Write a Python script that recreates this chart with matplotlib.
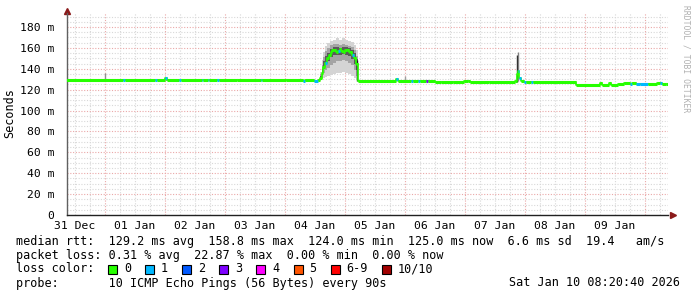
import matplotlib
matplotlib.use("Agg")
import matplotlib.pyplot as plt
from matplotlib.patches import Rectangle

# time in days since 31 Dec 00:00
t = [0.35, 1.30, 1.33, 1.84, 1.87, 2.00, 2.03, 2.24, 2.27, 2.62, 2.64, 2.71, 2.73,
     2.87, 2.90, 3.20, 3.60, 3.62, 4.02, 4.30, 4.33, 4.48, 4.55, 4.58, 4.61, 4.64,
     4.67, 4.70, 4.73, 4.76, 4.79, 4.82, 4.85, 4.88, 4.91, 4.94, 4.97, 5.00, 5.03,
     5.06, 5.09, 5.12, 5.15, 5.18, 5.21, 5.85, 5.88, 6.10, 6.13, 6.22, 6.25, 6.35,
     6.38, 6.50, 6.60, 6.80, 6.98, 7.05, 7.08, 7.40, 7.84, 7.86, 7.88, 7.90, 7.93,
     7.98, 8.02, 8.10, 8.13, 8.85, 9.25, 9.29, 9.40, 9.43, 9.55, 9.65, 9.75, 9.78,
     9.85, 9.92, 10.05, 10.20, 10.25, 10.28, 10.35]
median = [129.0, 129.0, 129.0, 129.0, 129.0, 131.0, 129.0, 129.0, 129.0, 129.0, 129.0,
          129.0, 129.0, 129.0, 129.0, 129.0, 129.0, 129.0, 128.8, 128.5, 128.8, 128.6,
          129.0, 131.0, 136.0, 142.0, 146.0, 150.0, 153.0, 156.0, 157.5, 158.0, 156.5,
          157.0, 158.5, 157.0, 156.0, 157.5, 158.0, 156.0, 156.5, 153.0, 150.0, 145.0,
          128.5, 130.0, 128.5, 128.5, 128.5, 128.3, 128.5, 128.3, 128.0, 127.5, 127.0,
          127.2, 128.5, 128.5, 127.2, 127.2, 128.0, 135.0, 138.0, 131.0, 128.0, 127.5,
          127.3, 127.2, 127.2, 124.0, 126.5, 124.5, 126.0, 124.5, 125.5, 126.0, 125.5,
          126.0, 125.5, 125.0, 125.5, 126.5, 126.0, 125.0, 125.0]
loss = [0, 1, 0, 1, 0, 1, 0, 1, 0, 1, 0, 1, 0, 1, 0, 0, 1, 0, 0, 1, 0, 1, 0, 0, 0, 0,
        1, 0, 0, 0, 0, 0, 0, 1, 0, 0, 0, 0, 0, 0, 0, 1, 0, 0, 0, 1, 0, 1, 0, 1, 0, 3,
        0, 0, 0, 0, 0, 0, 0, 0, 0, 0, 1, 1, 0, 1, 0, 1, 0, 0, 0, 0, 0, 0, 0, 0, 1, 0,
        1, 1, 0, 0, 1, 0, 0]

# smoke during the 04/05 Jan bump
smoke_t = [4.55, 4.58, 4.61, 4.64, 4.67, 4.70, 4.75, 4.80, 4.85, 4.90, 4.95, 5.00,
           5.05, 5.10, 5.15, 5.18, 5.21]
smoke_hi1 = [130, 137, 148, 156, 162, 165, 167, 168, 169, 168, 169, 168, 167, 166,
             163, 158, 129]
smoke_lo1 = [128, 129, 130, 131, 132, 133, 134, 135, 136, 136, 137, 136, 135, 133,
             131, 129, 128]
smoke_hi2 = [129.5, 135, 144, 151, 157, 160, 163, 164, 164, 163, 164, 163, 162, 161,
             158, 152, 129]
smoke_lo2 = [128.5, 129.5, 132, 136, 139, 141, 144, 146, 147, 147, 148, 147, 146, 144,
             139, 133, 128.5]
smoke_hi3 = [129, 133, 140, 147, 152, 155, 159, 161, 161, 160, 161, 161, 160, 158,
             155, 149, 129]
smoke_lo3 = [128.7, 130, 134, 140, 144, 147, 151, 153, 153, 153, 154, 153, 152, 149,
             145, 139, 128.7]

# short smoke spikes elsewhere
spike_t = [1.00, 2.01, 6.00, 7.865, 7.875, 5.205]
spike_lo = [129, 129, 128.5, 127.5, 128, 128.5]
spike_hi = [135.5, 132.5, 133.5, 153.5, 156, 148]
spike_col = ['#909090', '#404040', '#a0a0a0', '#202020', '#808080', '#202020']

loss_colors = ['#26ff00', '#00b8ff', '#0059ff', '#7e00ff', '#ff00ff', '#ff5500',
               '#ff0000', '#a10000']
loss_labels = ['0', '1', '2', '3', '4', '5', '6-9', '10/10']

day_labels = ['31 Dec', '01 Jan', '02 Jan', '03 Jan', '04 Jan', '05 Jan', '06 Jan',
              '07 Jan', '08 Jan', '09 Jan']

legend_lines = [
    "median rtt:  129.2 ms avg  158.8 ms max  124.0 ms min  125.0 ms now  6.6 ms sd  19.4   am/s",
    "packet loss: 0.31 % avg  22.87 % max  0.00 % min  0.00 % now",
    "loss color:",
    "probe:       10 ICMP Echo Pings (56 Bytes) every 90s",
]
stamp = "Sat Jan 10 08:20:40 2026"

W, H = 697, 297
mono = 'DejaVu Sans Mono'
fig = plt.figure(figsize=(W / 100, H / 100), dpi=100)
fig.patch.set_facecolor('white')
ax = fig.add_axes([67 / W, 82 / H, 601 / W, 202 / H])
ax.set_xlim(0.367, 10.383)
ax.set_ylim(0, 193.4)

# grid
for d in range(0, 11):
    for q in (0.25, 0.5, 0.75):
        ax.axvline(d + q, color='#d8d8d8', lw=0.8, ls=(0, (1, 1.5)), zorder=0)
for v in range(5, 194, 5):
    if v % 20:
        ax.axhline(v, color='#d8d8d8', lw=0.8, ls=(0, (1, 1.5)), zorder=0)
for d in range(1, 11):
    ax.axvline(d, color='#eaa8a8', lw=0.8, ls=(0, (1, 1.5)), zorder=0)
for v in range(20, 194, 20):
    ax.axhline(v, color='#eaa8a8', lw=0.8, ls=(0, (1, 1.5)), zorder=0)

# smoke
ax.fill_between(smoke_t, smoke_lo1, smoke_hi1, step='post', color='#d4d4d4', lw=0, zorder=1)
ax.fill_between(smoke_t, smoke_lo2, smoke_hi2, step='post', color='#a4a4a4', lw=0, zorder=1)
ax.fill_between(smoke_t, smoke_lo3, smoke_hi3, step='post', color='#5a5a5a', lw=0, zorder=1)
ax.vlines(spike_t, spike_lo, spike_hi, colors=spike_col, lw=1.0, zorder=1)

# median line coloured by loss
t_end = t[1:] + [ax.get_xlim()[1]]
ax.step(t, median, where='post', color=loss_colors[0], lw=1.2, zorder=2)
ax.hlines(median, t, t_end, colors=[loss_colors[l] for l in loss], lw=2.2, zorder=3)

# axes style
for s in ['top', 'right']:
    ax.spines[s].set_visible(False)
ax.spines['left'].set_color('#606060')
ax.spines['bottom'].set_color('#202020')
ax.spines['left'].set_linewidth(1)
ax.spines['bottom'].set_linewidth(1)
ax.plot(1.008, 0, marker='>', color='#8b1a1a', ms=4, transform=ax.transAxes, clip_on=False)
ax.plot(0, 1.01, marker='^', color='#8b1a1a', ms=4, transform=ax.transAxes, clip_on=False)

ax.set_yticks(range(0, 181, 20))
ax.set_yticklabels(['0'] + ['%d m' % v for v in range(20, 181, 20)],
                   fontfamily=mono, fontsize=8.2)
ax.set_xticks([d + 0.5 for d in range(len(day_labels))])
ax.set_xticklabels(day_labels, fontfamily=mono, fontsize=8.2)
ax.tick_params(axis='both', length=0, pad=4, colors='#000000')
ax.tick_params(axis='y', pad=9)

fig.text(10 / W, 1 - 113 / H, 'Seconds', rotation=90, ha='center', va='center',
         fontsize=8.5, fontfamily=mono)
fig.text(686 / W, 1 - 5 / H, 'RRDTOOL / TOBI OETIKER', rotation=270, ha='center',
         va='top', fontsize=5.8, fontfamily=mono, color='#b0b0b0')

# legend block
rows_y = [241, 255, 269, 283]
for line, y in zip(legend_lines, rows_y):
    fig.text(16 / W, 1 - y / H, line, fontfamily=mono, fontsize=8.5, va='center')
fig.text(680 / W, 1 - rows_y[3] / H, stamp, fontfamily=mono, fontsize=8.5,
         va='center', ha='right')

cw = 7.1
bx = 108
for col, lab in zip(loss_colors, loss_labels):
    fig.patches.append(Rectangle((bx / W, 1 - (rows_y[2] + 4.5) / H), 9 / W, 9 / H,
                                 transform=fig.transFigure, facecolor=col,
                                 edgecolor='black', lw=0.8))
    fig.text((bx + 16) / W, 1 - rows_y[2] / H, lab, fontfamily=mono, fontsize=8.5,
             va='center')
    bx = bx + 16 + len(lab) * cw + 14

fig.savefig('out.png', dpi=100)
